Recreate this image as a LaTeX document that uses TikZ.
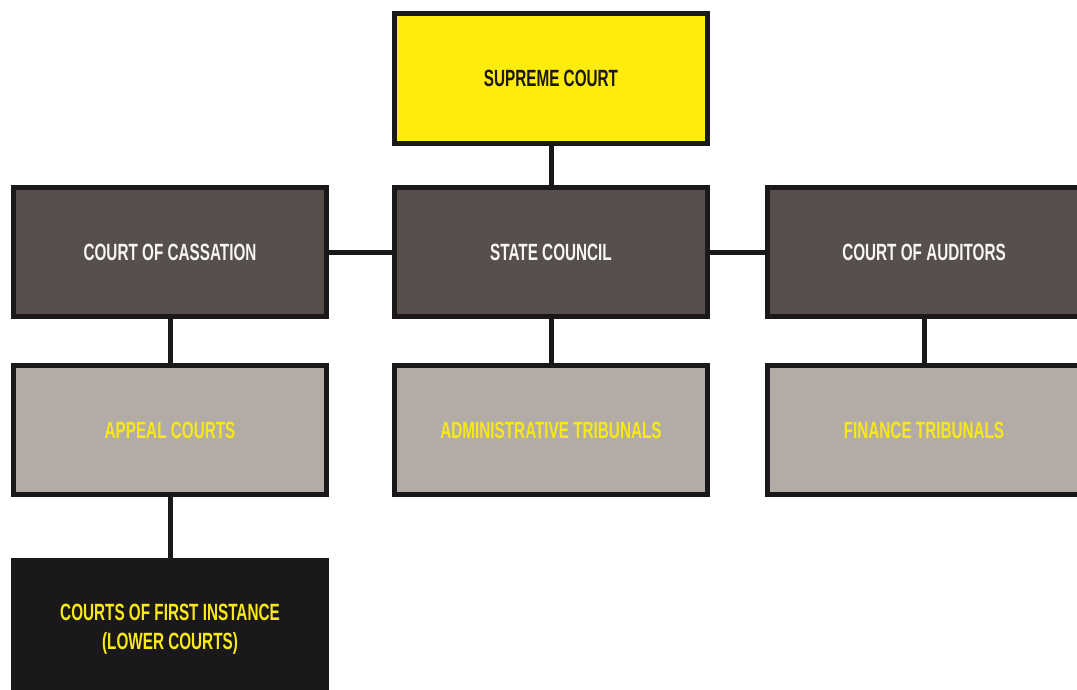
\documentclass[tikz,border=0pt]{standalone}
\usepackage{fontspec}
\setmainfont{Liberation Sans}[FakeStretch=0.65]
\definecolor{supyellow}{HTML}{FFEC0F}
\definecolor{darkbox}{HTML}{574F4B}
\definecolor{lightbox}{HTML}{B3ABA6}
\definecolor{blackbox}{HTML}{1A1818}
\definecolor{txtyellow}{HTML}{F7E818}
\definecolor{txtwhite}{HTML}{F7F6F2}
\begin{document}
\begin{tikzpicture}[x=1pt,y=-1pt,
  box/.style={draw=blackbox, line width=5pt, minimum width=313pt, minimum height=129.5pt,
    inner sep=0pt, align=center, font=\fontsize{23.5}{29}\selectfont\bfseries},
  topbox/.style={box, fill=supyellow, text=blackbox},
  midbox/.style={box, fill=darkbox, text=txtwhite},
  lowbox/.style={box, fill=lightbox, text=txtyellow},
  basebox/.style={box, fill=blackbox, text=txtyellow, minimum height=137.5pt},
  link/.style={draw=blackbox, line width=5pt}]
\useasboundingbox (0,0) rectangle (1077,689);
\clip (0,0) rectangle (1077,689);
\fill[white] (0,0) rectangle (1077,689);
\node[topbox]  (sup)  at (551,78.5) {SUPREME COURT};
\node[midbox]  (cass) at (170,252) {COURT OF CASSATION};
\node[midbox]  (state) at (551,252) {STATE COUNCIL};
\node[midbox]  (aud)  at (924,252) {COURT OF AUDITORS};
\node[lowbox]  (app)  at (170,430) {APPEAL COURTS};
\node[lowbox]  (adm)  at (551,430) {ADMINISTRATIVE TRIBUNALS};
\node[lowbox]  (fin)  at (924,430) {FINANCE TRIBUNALS};
\node[basebox] (first) at (170,629) {COURTS OF FIRST INSTANCE\\(LOWER COURTS)};
\draw[link] (sup.south) -- (state.north);
\draw[link] (cass.east) -- (state.west);
\draw[link] (state.east) -- (aud.west);
\draw[link] (cass.south) -- (app.north);
\draw[link] (state.south) -- (adm.north);
\draw[link] (aud.south) -- (fin.north);
\draw[link] (app.south) -- (first.north);
\end{tikzpicture}
\end{document}
